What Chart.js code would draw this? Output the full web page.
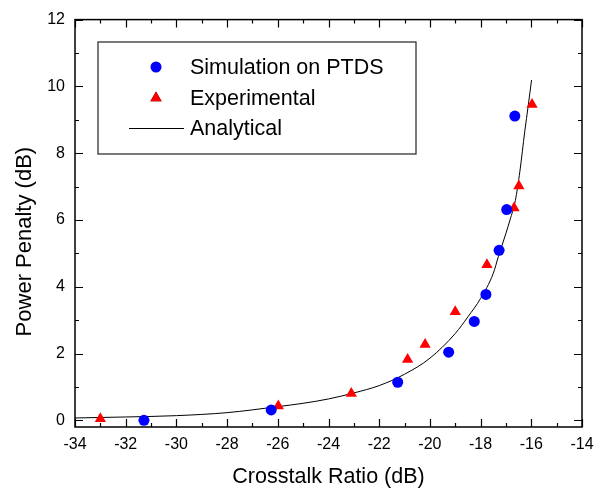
<!DOCTYPE html>
<html>
<head>
<meta charset="utf-8">
<script src="https://cdn.jsdelivr.net/npm/chart.js@4.4.0/dist/chart.umd.min.js"></script>
<style>
html,body{margin:0;padding:0;background:#fff;}
#wrap{width:611px;height:491px;position:relative;}
</style>
</head>
<body>
<div id="wrap"><canvas id="c" width="611" height="491"></canvas></div>
<script>
// ---- data ----
const seriesNames = ['Simulation on PTDS', 'Experimental', 'Analytical'];
const xTitle = 'Crosstalk Ratio (dB)';
const yTitle = 'Power Penalty (dB)';

const simX = [-31.28, -26.26, -21.27, -19.26, -18.25, -17.79, -17.27, -16.97, -16.65];
const simY = [0.00, 0.31, 1.14, 2.04, 2.96, 3.77, 5.09, 6.31, 9.11];

const expX = [-33.0, -25.98, -23.1, -20.88, -20.19, -19.0, -17.75, -16.68, -16.49, -15.97];
const expY = [0.05, 0.43, 0.80, 1.82, 2.27, 3.25, 4.66, 6.36, 7.02, 9.46];

const anaX = [-34, -32, -30, -28, -26, -25, -24, -23, -22, -21, -20, -19, -18.5, -18, -17.5, -17.3, -17, -16.84, -16.63, -16.45, -16.26, -16.12, -15.99];
const anaY = [0.07, 0.10, 0.14, 0.23, 0.41, 0.51, 0.64, 0.82, 1.04, 1.38, 1.86, 2.60, 3.10, 3.65, 4.40, 4.90, 5.60, 6.00, 6.58, 7.46, 8.64, 9.43, 10.19];

const xTicks = [-34, -32, -30, -28, -26, -24, -22, -20, -18, -16, -14];
const yTicks = [0, 2, 4, 6, 8, 10, 12];

const toXY = (xs, ys) => xs.map((x, i) => ({x: x, y: ys[i]}));
const FONT = "'Liberation Sans', Arial, sans-serif";

// frame + inward ticks on all four sides
const framePlugin = {
  id: 'frame',
  afterDraw(chart) {
    const {ctx, chartArea: a, scales} = chart;
    const xs = scales.x, ys = scales.y;
    ctx.save();
    ctx.strokeStyle = '#000';
    ctx.lineWidth = 1.5;
    ctx.strokeRect(a.left, a.top, a.right - a.left, a.bottom - a.top);
    ctx.lineWidth = 1.2;
    ctx.beginPath();
    for (let v = -34; v <= -14; v += 1) {
      const p = Math.round(xs.getPixelForValue(v)) + 0.5;
      const len = (v % 2 === 0) ? 8 : 4;
      ctx.moveTo(p, a.bottom); ctx.lineTo(p, a.bottom - len);
      ctx.moveTo(p, a.top); ctx.lineTo(p, a.top + len);
    }
    for (let v = 0; v <= 12; v += 1) {
      const p = Math.round(ys.getPixelForValue(v)) + 0.5;
      const len = (v % 2 === 0) ? 8 : 4;
      ctx.moveTo(a.left, p); ctx.lineTo(a.left + len, p);
      ctx.moveTo(a.right, p); ctx.lineTo(a.right - len, p);
    }
    ctx.stroke();
    ctx.restore();
  }
};

// boxed legend inside the plot
const legendPlugin = {
  id: 'boxLegend',
  afterDraw(chart) {
    const {ctx} = chart;
    const ds = chart.data.datasets;
    const box = {l: 98, t: 42, r: 416, b: 154};
    ctx.save();
    ctx.fillStyle = '#fff';
    ctx.fillRect(box.l, box.t, box.r - box.l, box.b - box.t);
    ctx.strokeStyle = '#333';
    ctx.lineWidth = 1.3;
    ctx.strokeRect(box.l, box.t, box.r - box.l, box.b - box.t);
    const rows = [67, 98, 128];
    const symX = 156, textX = 190;
    ctx.font = '21.5px ' + FONT;
    ctx.textBaseline = 'middle';
    ctx.textAlign = 'left';
    ds.forEach((d, i) => {
      const y = rows[i];
      if (d.showLine) {
        ctx.strokeStyle = d.borderColor;
        ctx.lineWidth = 1;
        ctx.beginPath();
        ctx.moveTo(129, y + 0.5); ctx.lineTo(184, y + 0.5);
        ctx.stroke();
      } else {
        Chart.helpers.drawPoint(ctx, {
          pointStyle: d.pointStyle, radius: d.pointRadius, rotation: 0, borderWidth: 0
        }, symX, y);
        ctx.fillStyle = d.backgroundColor;
        ctx.fill();
      }
      ctx.fillStyle = '#000';
      ctx.fillText(d.label, textX, y + 1);
    });
    ctx.restore();
  }
};

new Chart(document.getElementById('c'), {
  type: 'scatter',
  data: {
    datasets: [
      {
        label: seriesNames[0],
        data: toXY(simX, simY),
        pointStyle: 'circle',
        pointRadius: 5.5,
        backgroundColor: '#0000ff',
        borderColor: '#0000ff',
        borderWidth: 0,
        showLine: false,
        order: 1
      },
      {
        label: seriesNames[1],
        data: toXY(expX, expY),
        pointStyle: 'triangle',
        pointRadius: 6.5,
        backgroundColor: '#ff0000',
        borderColor: '#ff0000',
        borderWidth: 0,
        showLine: false,
        order: 2
      },
      {
        label: seriesNames[2],
        data: toXY(anaX, anaY),
        showLine: true,
        pointRadius: 0,
        borderColor: '#000000',
        backgroundColor: '#000000',
        borderWidth: 1,
        cubicInterpolationMode: 'monotone',
        fill: false,
        order: 3
      }
    ]
  },
  options: {
    responsive: false,
    animation: false,
    devicePixelRatio: 1,
    layout: {padding: {left: 0, right: 29, top: 12, bottom: 0}},
    plugins: {
      legend: {display: false},
      tooltip: {enabled: false}
    },
    scales: {
      x: {
        type: 'linear',
        min: -34,
        max: -14,
        afterBuildTicks: s => { s.ticks = xTicks.map(v => ({value: v})); },
        afterFit: s => { s.height = 64; },
        grid: {display: false, drawTicks: false},
        border: {display: false},
        ticks: {
          color: '#000',
          font: {family: FONT, size: 16},
          padding: 8,
          maxRotation: 0,
          autoSkip: false,
          callback: v => String(v)
        },
        title: {
          display: true,
          text: xTitle,
          color: '#000',
          font: {family: FONT, size: 21.5},
          padding: {top: 0, bottom: 1}
        }
      },
      y: {
        type: 'linear',
        min: -0.2,
        max: 12,
        afterBuildTicks: s => { s.ticks = yTicks.map(v => ({value: v})); },
        afterFit: s => { s.width = 75; },
        grid: {display: false, drawTicks: false},
        border: {display: false},
        ticks: {
          color: '#000',
          font: {family: FONT, size: 16},
          padding: 10,
          autoSkip: false,
          callback: v => String(v)
        },
        title: {
          display: true,
          text: yTitle + '      ',
          color: '#000',
          font: {family: FONT, size: 22},
          padding: {top: 12, bottom: 0}
        }
      }
    }
  },
  plugins: [framePlugin, legendPlugin]
});
</script>
</body>
</html>
